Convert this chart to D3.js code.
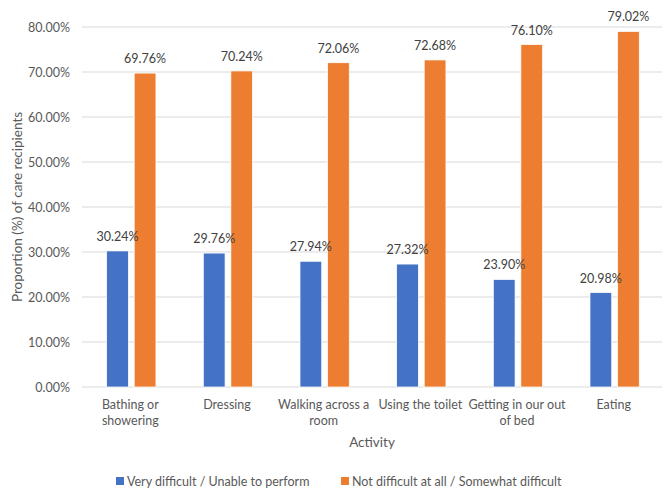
<!DOCTYPE html>
<html>
<head>
<meta charset="utf-8">
<script src="https://cdn.jsdelivr.net/npm/d3@7"></script>
<style>
  html, body { margin: 0; padding: 0; background: #fff; }
  svg { display: block; font-family: Lato, "Open Sans", sans-serif; }
</style>
</head>
<body>
<svg id="chart" width="672" height="488"></svg>
<script>
// Activity categories (multi-line labels as arrays of lines)
const categories = [
  ["Bathing or", "showering"],
  ["Dressing"],
  ["Walking across a", "room"],
  ["Using the toilet"],
  ["Getting in our out", "of bed"],
  ["Eating"]
];
const seriesNames = ["Very difficult / Unable to perform", "Not difficult at all / Somewhat difficult"];
const veryDifficult = [30.24, 29.76, 27.94, 27.32, 23.90, 20.98];
const notDifficult = [69.76, 70.24, 72.06, 72.68, 76.10, 79.02];
const yTicks = [0, 10, 20, 30, 40, 50, 60, 70, 80];
const colors = ["#4472C4", "#ED7D31"];

const svg = d3.select("#chart");
const margin = { left: 82, right: 10, top: 27, bottom: 101 };
const width = 672 - margin.left - margin.right;
const height = 488 - margin.top - margin.bottom;
const g = svg.append("g").attr("transform", `translate(${margin.left},${margin.top})`);

const x0 = d3.scaleBand().domain(d3.range(categories.length)).range([0, width]);
const x1 = d3.scaleBand().domain([0, 1]).range([x0.bandwidth() * 0.255, x0.bandwidth() * 0.765]).paddingInner(0.21);
const y = d3.scaleLinear().domain([0, 80]).range([height, 0]);

const textColor = "#595959";

// Gridlines
g.append("g")
  .selectAll("line")
  .data(yTicks)
  .join("line")
  .attr("x1", 0).attr("x2", width)
  .attr("y1", d => y(d)).attr("y2", d => y(d))
  .attr("stroke", "#D9D9D9").attr("stroke-width", 1);

// Y axis labels
const yAxis = d3.axisLeft(y).tickValues(yTicks).tickSize(0).tickPadding(12)
  .tickFormat(d => d.toFixed(2) + "%");
g.append("g").call(yAxis)
  .call(a => a.select(".domain").remove())
  .call(a => a.selectAll("text").attr("fill", textColor).attr("font-size", 12.5)
    .attr("font-family", "Lato, 'Open Sans', sans-serif"));

// Bars
const series = [veryDifficult, notDifficult];
const groups = g.append("g").selectAll("g")
  .data(categories.map((c, i) => i))
  .join("g")
  .attr("transform", i => `translate(${x0(i)},0)`);

groups.selectAll("rect")
  .data(i => series.map((s, k) => ({ k, v: s[i] })))
  .join("rect")
  .attr("x", d => x1(d.k))
  .attr("width", x1.bandwidth())
  .attr("y", d => y(d.v))
  .attr("height", d => y(0) - y(d.v))
  .attr("fill", d => colors[d.k])
  .attr("stroke", "#fff").attr("stroke-width", 0.75);

// Value labels
groups.selectAll("text.val")
  .data(i => series.map((s, k) => ({ k, v: s[i] })))
  .join("text")
  .attr("class", "val")
  .attr("x", d => x1(d.k) + x1.bandwidth() / 2)
  .attr("y", d => y(d.v) - 10)
  .attr("text-anchor", "middle")
  .attr("fill", "#404040")
  .attr("font-size", 12.5)
  .text(d => d.v.toFixed(2) + "%");

// X category labels
const xl = g.append("g").attr("transform", `translate(0,${height})`);
xl.selectAll("text")
  .data(categories.map((c, i) => ({ c, i })))
  .join("text")
  .attr("x", d => x0(d.i) + x0.bandwidth() / 2)
  .attr("y", 22)
  .attr("text-anchor", "middle")
  .attr("fill", textColor)
  .attr("font-size", 12.5)
  .selectAll("tspan")
  .data(d => d.c.map((line, j) => ({ line, j, cx: x0(d.i) + x0.bandwidth() / 2 })))
  .join("tspan")
  .attr("x", d => d.cx)
  .attr("dy", d => d.j === 0 ? 0 : 16)
  .text(d => d.line);

// Axis titles
svg.append("text")
  .attr("x", margin.left + width / 2)
  .attr("y", 447)
  .attr("text-anchor", "middle")
  .attr("fill", textColor)
  .attr("font-size", 13.5)
  .text("Activity");

svg.append("text")
  .attr("transform", `translate(22,${margin.top + height / 2}) rotate(-90)`)
  .attr("text-anchor", "middle")
  .attr("fill", textColor)
  .attr("font-size", 13.5)
  .text("Proportion (%) of care recipients");

// Legend
const legendItems = [
  { name: seriesNames[0], color: colors[0], x: 116 },
  { name: seriesNames[1], color: colors[1], x: 341 }
];
const lg = svg.append("g");
lg.selectAll("rect")
  .data(legendItems)
  .join("rect")
  .attr("x", d => d.x).attr("y", 477)
  .attr("width", 8).attr("height", 8)
  .attr("fill", d => d.color);
lg.selectAll("text")
  .data(legendItems)
  .join("text")
  .attr("x", d => d.x + 11).attr("y", 485.5)
  .attr("fill", textColor)
  .attr("font-size", 12.5)
  .text(d => d.name);
</script>
</body>
</html>
